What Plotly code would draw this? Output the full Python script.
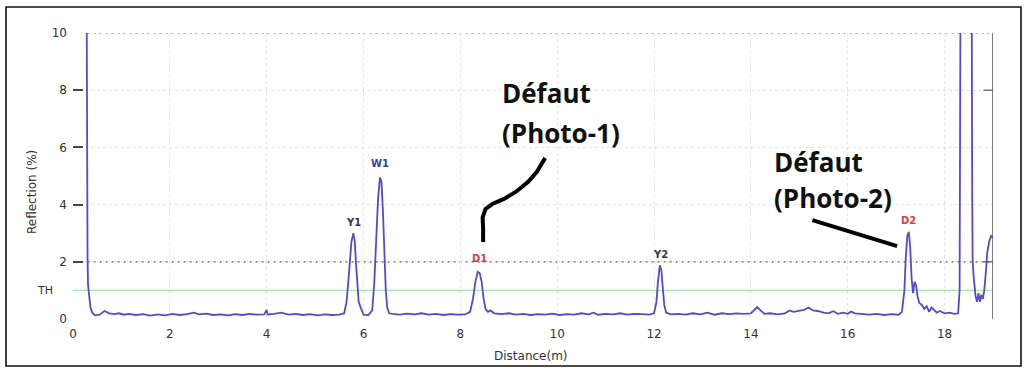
import plotly.graph_objects as go

# ---------------- data ----------------
distance_m = [
    0.28, 0.29, 0.30, 0.31, 0.33, 0.36, 0.40, 0.45, 0.55, 0.65, 0.75, 0.85, 0.95, 1.05, 1.15,
    1.30, 1.45, 1.60, 1.75, 1.90, 2.05, 2.20, 2.35, 2.50, 2.60, 2.75, 2.90, 3.05, 3.20, 3.35,
    3.50, 3.65, 3.80, 3.95, 4.00, 4.02, 4.15, 4.30, 4.45, 4.60, 4.75, 4.90, 5.05, 5.20, 5.35,
    5.50, 5.60, 5.65, 5.70, 5.75, 5.79, 5.82, 5.85, 5.88, 5.90, 5.93, 5.96, 6.00, 6.10, 6.18,
    6.22, 6.26, 6.30, 6.34, 6.37, 6.40, 6.43, 6.46, 6.49, 6.53, 6.60, 6.75, 6.90, 7.05, 7.20,
    7.35, 7.50, 7.65, 7.80, 7.95, 8.10, 8.20, 8.26, 8.31, 8.36, 8.40, 8.44, 8.48, 8.52, 8.57,
    8.62, 8.70, 8.85, 9.00, 9.15, 9.30, 9.45, 9.60, 9.75, 9.90, 10.05, 10.20, 10.35, 10.50, 10.65,
    10.75, 10.85, 11.00, 11.15, 11.30, 11.45, 11.60, 11.75, 11.90, 12.00, 12.05, 12.08, 12.12, 12.15, 12.18,
    12.21, 12.25, 12.35, 12.50, 12.65, 12.80, 12.95, 13.10, 13.25, 13.40, 13.55, 13.70, 13.85, 14.00, 14.08,
    14.13, 14.20, 14.28, 14.40, 14.55, 14.70, 14.80, 14.88, 15.00, 15.10, 15.19, 15.28, 15.38, 15.50, 15.60,
    15.70, 15.80, 15.90, 16.00, 16.07, 16.15, 16.30, 16.45, 16.60, 16.75, 16.90, 17.05, 17.12, 17.17, 17.20,
    17.23, 17.26, 17.29, 17.32, 17.35, 17.38, 17.41, 17.44, 17.48, 17.53, 17.58, 17.63, 17.68, 17.73, 17.78,
    17.84, 17.90, 18.00, 18.10, 18.20, 18.28, 18.31, 18.33, 18.45, 18.56, 18.57, 18.58, 18.60, 18.62, 18.64,
    18.67, 18.70, 18.73, 18.76, 18.79, 18.82, 18.85, 18.88, 18.92, 18.96, 19.00,
]
reflection_pct = [
    12.0, 2.8, 2.2, 1.2, 0.8, 0.4, 0.22, 0.13, 0.15, 0.28, 0.20, 0.17, 0.20, 0.15, 0.18,
    0.14, 0.17, 0.12, 0.16, 0.13, 0.18, 0.14, 0.17, 0.22, 0.16, 0.19, 0.14, 0.16, 0.13, 0.17,
    0.14, 0.18, 0.15, 0.16, 0.32, 0.16, 0.18, 0.22, 0.15, 0.18, 0.14, 0.17, 0.13, 0.16, 0.14,
    0.15, 0.20, 0.60, 1.60, 2.70, 3.00, 2.70, 1.80, 1.00, 0.60, 0.45, 0.30, 0.15, 0.14, 0.30,
    1.20, 2.80, 4.20, 4.95, 4.80, 3.80, 2.20, 1.00, 0.40, 0.20, 0.18, 0.15, 0.19, 0.16, 0.20,
    0.15, 0.18, 0.14, 0.17, 0.15, 0.16, 0.25, 0.70, 1.30, 1.65, 1.60, 1.30, 0.70, 0.35, 0.25,
    0.30, 0.20, 0.17, 0.20, 0.15, 0.18, 0.14, 0.17, 0.15, 0.19, 0.14, 0.17, 0.15, 0.20, 0.16,
    0.22, 0.15, 0.18, 0.16, 0.20, 0.15, 0.18, 0.17, 0.15, 0.20, 0.60, 1.30, 1.88, 1.70, 1.20,
    0.50, 0.22, 0.16, 0.18, 0.15, 0.20, 0.16, 0.22, 0.15, 0.20, 0.17, 0.20, 0.18, 0.20, 0.35,
    0.42, 0.30, 0.18, 0.20, 0.16, 0.20, 0.30, 0.25, 0.28, 0.32, 0.40, 0.30, 0.28, 0.22, 0.20,
    0.27, 0.18, 0.22, 0.18, 0.26, 0.20, 0.17, 0.15, 0.18, 0.14, 0.17, 0.15, 0.25, 1.00, 2.20,
    2.90, 3.05, 2.50, 1.40, 0.90, 1.30, 1.20, 0.80, 0.55, 0.50, 0.35, 0.45, 0.25, 0.40, 0.30,
    0.22, 0.28, 0.20, 0.22, 0.18, 0.20, 1.00, 12.0, 12.0, 12.0, 4.40, 2.00, 1.50, 1.00, 0.80,
    0.60, 0.90, 0.60, 0.85, 0.70, 1.00, 1.60, 2.30, 2.70, 2.90, 2.85,
]

threshold_th = 1.0
x_ticks = [0, 2, 4, 6, 8, 10, 12, 14, 16, 18]
y_ticks = [0, 2, 4, 6, 8, 10]

peak_labels = ["Y1", "W1", "D1", "Y2", "D2"]
peak_x = [5.79, 6.34, 8.39, 12.13, 17.25]
peak_label_y = [3.39, 5.45, 2.10, 2.24, 3.46]
peak_colors = ["#3a3a3a", "#3b3fa6", "#e23a3f", "#3a3a3a", "#e23a3f"]

# ---------------- figure ----------------
fig = go.Figure()

fig.add_trace(go.Scatter(
    x=distance_m, y=reflection_pct, mode="lines",
    line=dict(color="#5a47cc", width=1.8),
    hoverinfo="skip", showlegend=False,
))

shapes = []
# TH line
shapes.append(dict(type="line", xref="x", yref="y", x0=0, x1=19, y0=threshold_th, y1=threshold_th,
                   line=dict(color="#a6e8a6", width=1.2), layer="below"))
# dark dotted lines at 10 and 2
for yv in (10, 2):
    shapes.append(dict(type="line", xref="x", yref="y", x0=0.3, x1=19, y0=yv, y1=yv,
                       line=dict(color="#555555", width=1.2, dash="2px,4px"), layer="below"))
# right axis line and inward ticks
shapes.append(dict(type="line", xref="x", yref="y", x0=19, x1=19, y0=0, y1=10,
                   line=dict(color="#555555", width=1.5)))
for yv in (2, 8):
    shapes.append(dict(type="line", xref="x", yref="y", x0=18.8, x1=19, y0=yv, y1=yv,
                       line=dict(color="#555555", width=1.2)))
# outer frame
shapes.append(dict(type="rect", xref="paper", yref="paper",
                   x0=(6 - 73) / 920, x1=(1021 - 73) / 920,
                   y0=(319 - 366) / 286, y1=(319 - 7) / 286,
                   line=dict(color="#111111", width=1.6)))
# hand drawn callout strokes
shapes.append(dict(type="path", xref="x", yref="y",
                   path="M 8.47,2.69 L 8.47,3.15 L 8.46,3.55 L 8.52,3.85 L 8.66,4.02 L 8.90,4.20 "
                        "L 9.15,4.45 L 9.40,4.80 L 9.58,5.15 L 9.75,5.63",
                   line=dict(color="#000000", width=4)))
shapes.append(dict(type="line", xref="x", yref="y", x0=15.27, y0=3.46, x1=17.02, y1=2.55,
                   line=dict(color="#000000", width=4)))

small_family = "DejaVu Sans"
annotations = []
for lab, px, py, col in zip(peak_labels, peak_x, peak_label_y, peak_colors):
    annotations.append(dict(x=px, y=py, xref="x", yref="y", text=lab, showarrow=False,
                            font=dict(family=small_family, size=10, color=col, weight=700)))
annotations.append(dict(x=(45 - 73) / 920, y=threshold_th, xref="paper", yref="y", text="TH",
                        xanchor="center", yanchor="middle",
                        showarrow=False, font=dict(family=small_family, size=11, color="#333333")))
big_font = dict(family="Open Sans", size=26, color="#111111", weight=700)
for txt, xx, yy in (("Défaut", 8.82, 7.90), ("(Photo-1)", 8.82, 6.50),
                    ("Défaut", 14.44, 5.49), ("(Photo-2)", 14.44, 4.23)):
    annotations.append(dict(x=xx, y=yy, xref="x", yref="y", text=txt, showarrow=False,
                            xanchor="left", yanchor="middle", font=big_font))
annotations.append(dict(x=(32 - 73) / 920, y=(319 - 192) / 286, xref="paper", yref="paper",
                        text="Reflection (%)", textangle=-90, showarrow=False,
                        xanchor="center", yanchor="middle",
                        font=dict(family=small_family, size=12, color="#333333")))
annotations.append(dict(x=(531 - 73) / 920, y=(319 - 356) / 286, xref="paper", yref="paper",
                        text="Distance(m)", showarrow=False,
                        xanchor="center", yanchor="middle",
                        font=dict(family=small_family, size=12, color="#333333")))

tick_font = dict(family=small_family, size=12, color="#333333")
fig.update_layout(
    width=1024, height=372,
    margin=dict(l=73, r=31, t=33, b=53),
    paper_bgcolor="white", plot_bgcolor="white",
    shapes=shapes, annotations=annotations,
    xaxis=dict(range=[0, 19], tickvals=x_ticks, ticktext=[str(v) for v in x_ticks],
               showgrid=True, gridcolor="#e2e2e2", griddash="dot", gridwidth=1,
               zeroline=False, showline=False, ticks="", ticklabelstandoff=6,
               tickfont=tick_font),
    yaxis=dict(range=[0, 10], tickvals=y_ticks, ticktext=[str(v) for v in y_ticks],
               showgrid=True, gridcolor="#e2e2e2", griddash="dot", gridwidth=1,
               zeroline=False, showline=False, ticks="inside", ticklen=10,
               tickcolor="#444444", tickwidth=1.5, ticklabelstandoff=5,
               tickfont=tick_font),
    showlegend=False,
)

fig.write_html("out.html")
